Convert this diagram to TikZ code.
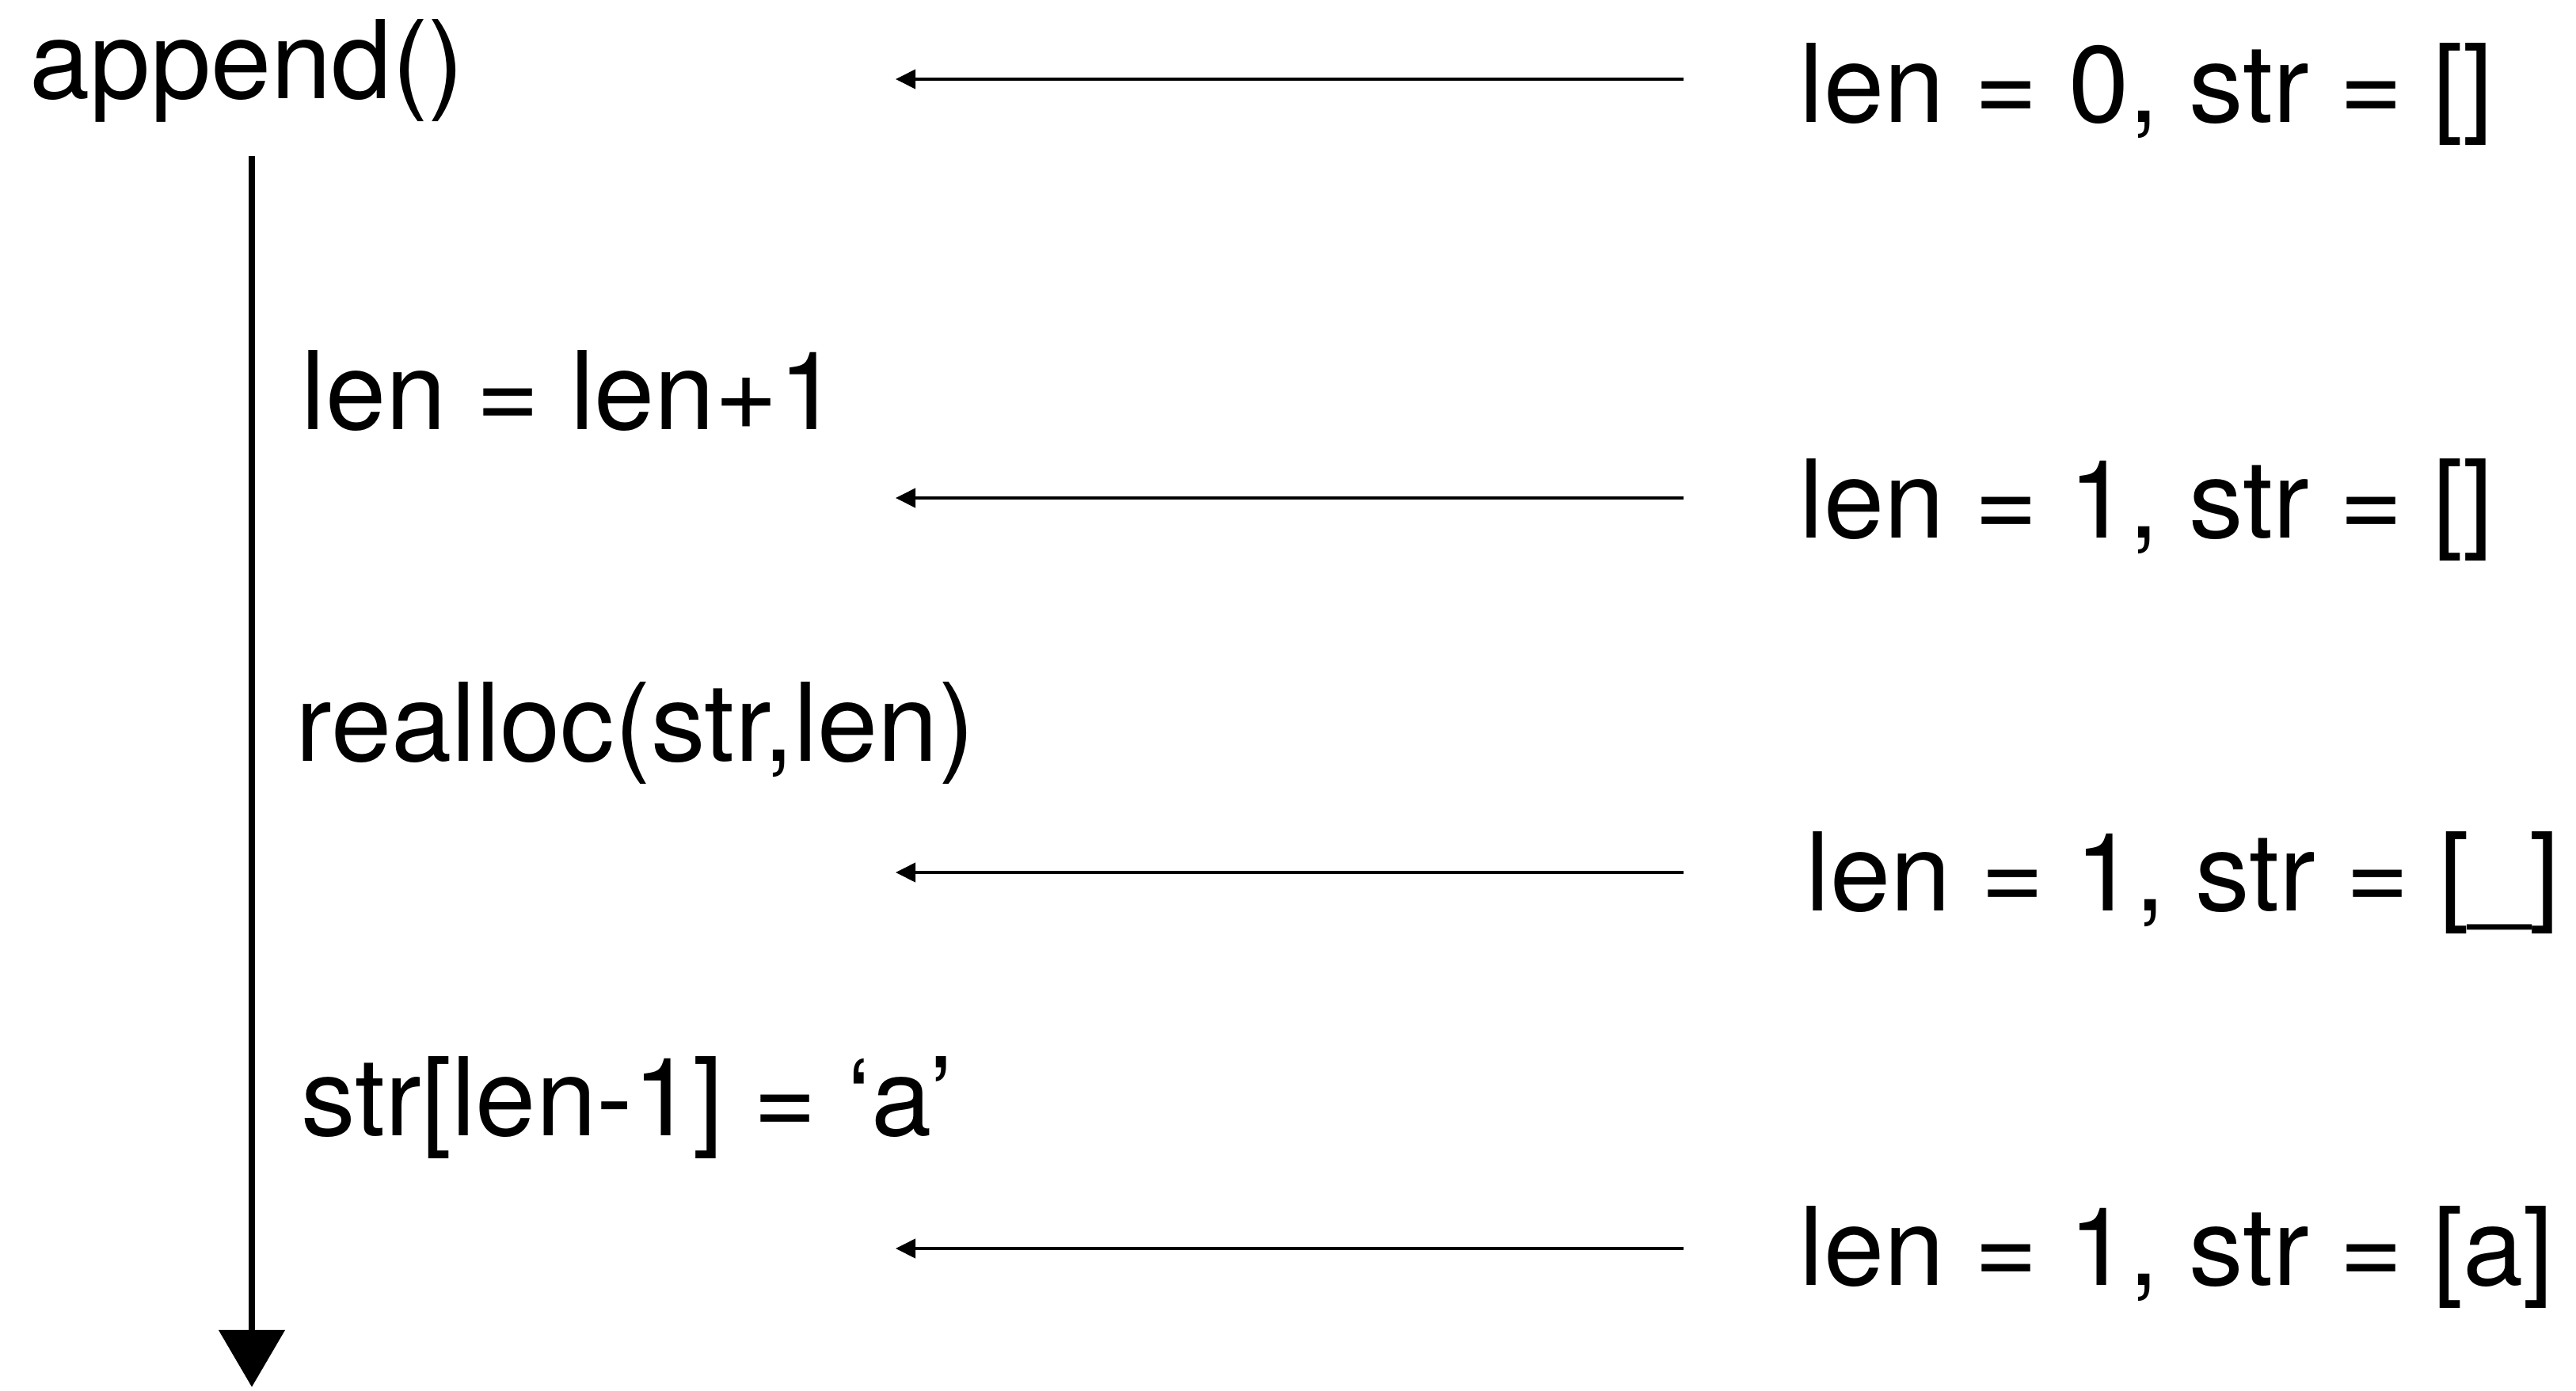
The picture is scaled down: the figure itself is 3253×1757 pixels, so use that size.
\documentclass[tikz,border=0pt]{standalone}
\usepackage{fontspec}
\setmainfont{TeX Gyre Heros}
\usetikzlibrary{arrows.meta}
\begin{document}
\begin{tikzpicture}[x=0.01cm,y=-0.01cm,
  lbl/.style={anchor=base west,inner sep=0pt,font=\fontsize{39pt}{47pt}\selectfont},
  harrow/.style={line width=0.04cm,-{Triangle[length=0.25cm,width=0.24cm]}},
  varrow/.style={line width=0.08cm,-{Triangle[length=0.72cm,width=0.82cm]}}]
\useasboundingbox (0,0) rectangle (3253,1757);
\node[lbl] (app) at (37,124) {append()};
\node[lbl] (s1) at (380,542) {len = len+1};
\node[lbl] (s2) at (373,961) {realloc(str,len)};
\node[lbl] (s3) at (380,1434) {str[len-1] = ‘a’};
\node[lbl] (r0) at (2272,154) {len = 0, str = []};
\node[lbl] (r1) at (2272,679) {len = 1, str = []};
\node[lbl] (r2) at (2280,1150) {len = 1, str = [\_]};
\node[lbl] (r3) at (2272,1623) {len = 1, str = [a]};
\coordinate (vtop) at (318,197);
\coordinate (vbot) at (318,1752);
\draw[varrow] (vtop) -- (vbot);
\foreach \i/\y in {0/100,1/629,2/1102,3/1577}{
  \coordinate (as\i) at (2126,\y);
  \coordinate (ae\i) at (1131,\y);
  \draw[harrow] (as\i) -- (ae\i);
}
\end{tikzpicture}
\end{document}
